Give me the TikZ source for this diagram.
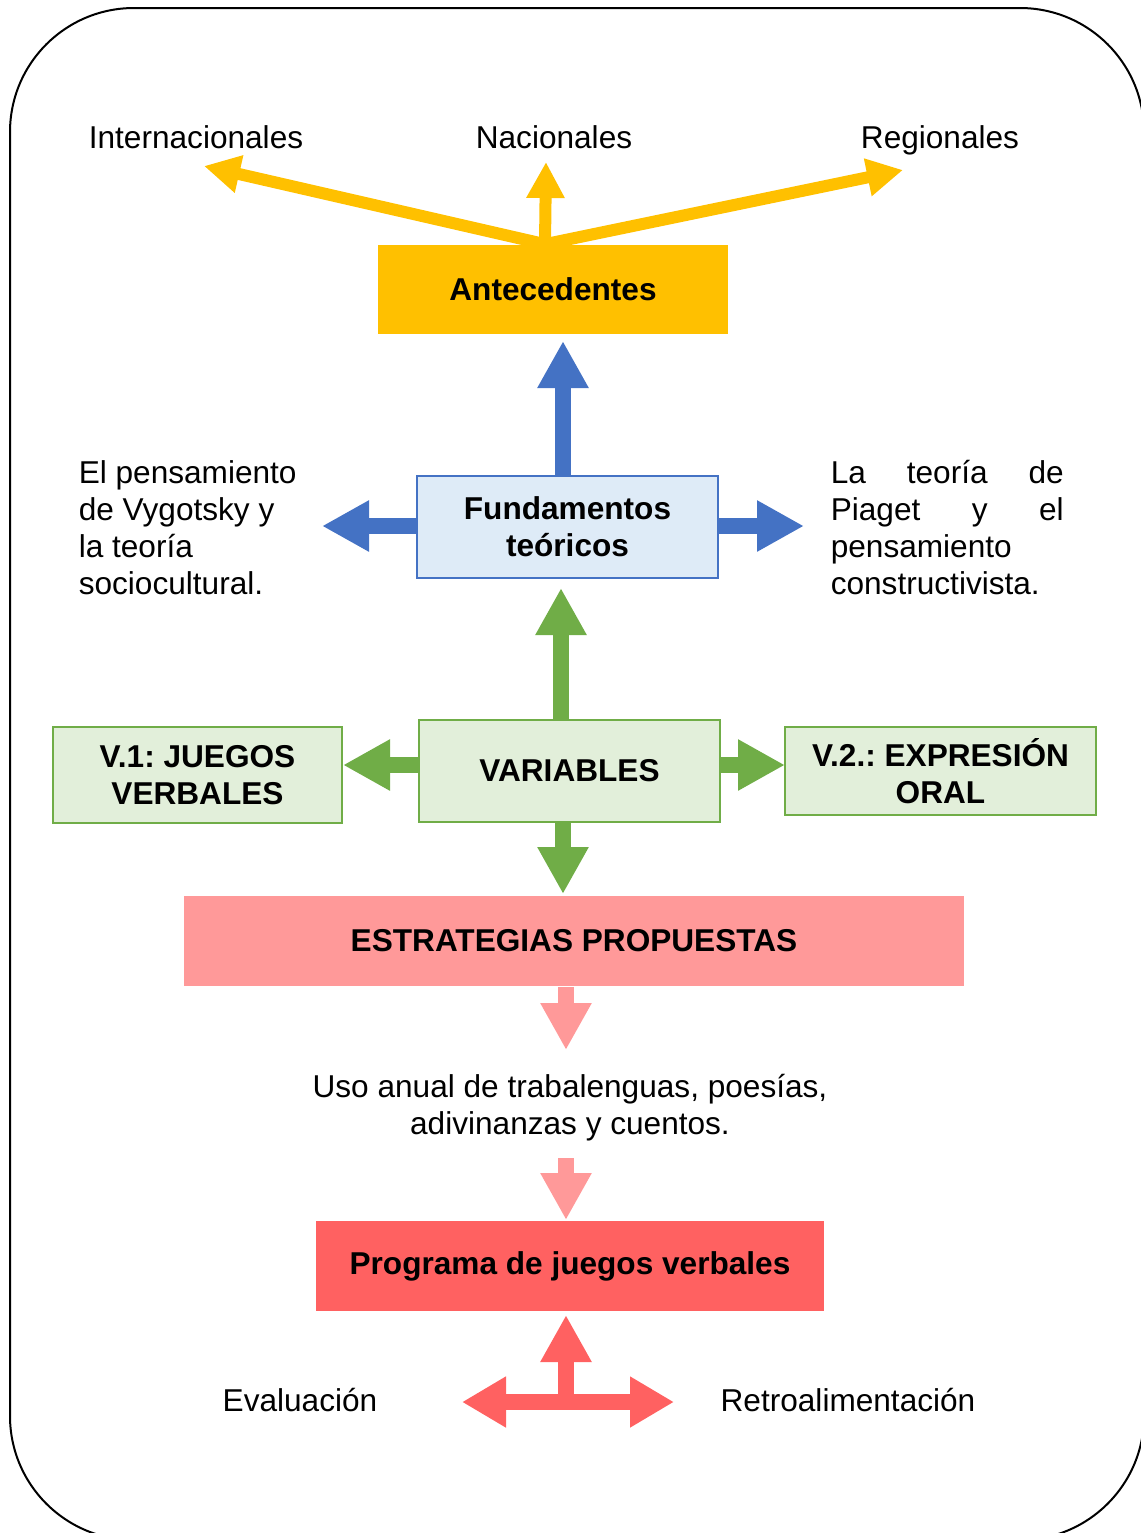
\documentclass[tikz,border=0pt]{standalone}
\usepackage{fontspec}
\setmainfont{Liberation Sans}
\usepackage{xcolor}
\usetikzlibrary{arrows.meta}

\definecolor{anteyellow}{HTML}{FFC000}
\definecolor{fundblue}{HTML}{4472C4}
\definecolor{fundfill}{HTML}{DEEBF7}
\definecolor{vargreen}{HTML}{70AD47}
\definecolor{varfill}{HTML}{E2EFDA}
\definecolor{estrpink}{HTML}{FF9999}
\definecolor{progred}{HTML}{FF6161}
\newcommand{\dfont}{\fontsize{15.8}{18.5}\selectfont\frenchspacing}

\begin{document}
\begin{tikzpicture}[x=0.5pt, y=-0.5pt, thick]
  \tikzset{box/.style={rectangle, inner sep=0pt, align=center, font=\dfont\bfseries},
           txt/.style={inner sep=0pt, font=\dfont},
           yarrow/.style={draw=anteyellow, line width=6pt, -{Triangle[length=18pt, width=18pt]}},
           bigarrow/.style={line width=8pt, -{Triangle[length=23.5pt, width=24pt]}}}

  \useasboundingbox (0,0) rectangle (1141,1533);
  \draw [line width=1pt, rounded corners=62pt] (10,8) rectangle (1144,1540);

  \node [box, fill=anteyellow, minimum width=175pt, minimum height=44.5pt]
        (ante) at (553,289.5) {Antecedentes};

  \foreach \n/\x/\y in {intl/204/166, nac/546/162, reg/903/170} {
    \coordinate (\n) at (\x,\y);
    \draw [yarrow] ([xshift=-4pt]ante.north) -- (\n);
  }
  \node [txt, anchor=base] (intl-l) at (196,148) {Internacionales};
  \node [txt, anchor=base] (nac-l) at (554,148) {Nacionales};
  \node [txt, anchor=base] (reg-l) at (940,148) {Regionales};

  \node [box, draw=fundblue, line width=1pt, fill=fundfill, minimum width=150.5pt, minimum height=51pt]
        (fund) at (567.5,527) {Fundamentos\\teóricos};

  \coordinate (fund-up) at (563,341);
  \coordinate (fund-l) at (322,526);
  \coordinate (fund-r) at (804,526);
  \draw [bigarrow, fundblue] (fund.north -| fund-up) -- (fund-up);
  \draw [bigarrow, fundblue] (fund.west |- fund-l) -- (fund-l);
  \draw [bigarrow, fundblue] (fund.east |- fund-r) -- (fund-r);

  \node [txt, anchor=west, align=left] (vyg) at (78,528)
        {El pensamiento\\de Vygotsky y\\la teoría\\sociocultural.};
  \node [txt, anchor=west, align=left, text width=116.5pt] (piag) at (830,528)
        {La\hfill teoría\hfill de\\Piaget\hfill y\hfill el\\pensamiento\\constructivista.};

  \node [box, draw=vargreen, line width=1pt, fill=varfill, minimum width=150.5pt, minimum height=51pt]
        (vars) at (569.5,771) {VARIABLES};
  \node [box, draw=vargreen, line width=1pt, fill=varfill, minimum width=144.5pt, minimum height=48pt]
        (v1) at (197.5,775) {V.1: JUEGOS\\VERBALES};
  \node [box, draw=vargreen, line width=1pt, fill=varfill, minimum width=155.5pt, minimum height=44pt]
        (v2) at (940.5,771) {V.2.: EXPRESIÓN\\ORAL};

  \coordinate (var-up) at (561,588);
  \coordinate (var-l) at (343,765);
  \coordinate (var-r) at (785,765);
  \coordinate (var-d) at (563,894);
  \draw [bigarrow, vargreen] (vars.north -| var-up) -- (var-up);
  \draw [bigarrow, vargreen] (vars.west |- var-l) -- (var-l);
  \draw [bigarrow, vargreen] (vars.east |- var-r) -- (var-r);
  \draw [bigarrow, vargreen] (vars.south -| var-d) -- (var-d);

  \node [box, fill=estrpink, minimum width=390pt, minimum height=45pt]
        (estr) at (574,941) {ESTRATEGIAS PROPUESTAS};

  \coordinate (estr-d) at (566,1050);
  \draw [bigarrow, estrpink] (estr.south -| estr-d) -- (estr-d);

  \node [txt, align=center] (uso) at (570,1108)
        {Uso anual de trabalenguas, poesías,\\adivinanzas y cuentos.};

  \coordinate (uso-s) at (566,1158);
  \coordinate (uso-d) at (566,1220);
  \draw [bigarrow, estrpink] (uso-s) -- (uso-d);

  \node [box, fill=progred, minimum width=254pt, minimum height=45pt]
        (prog) at (570,1266) {Programa de juegos verbales};

  \coordinate (junc) at (566,1402);
  \coordinate (prog-up) at (566,1315);
  \coordinate (eval-tip) at (462,1402);
  \coordinate (retro-tip) at (674,1402);
  \draw [bigarrow, progred] (junc) -- (prog-up);
  \draw [line width=8pt, progred, {Triangle[length=22pt, width=24pt]}-{Triangle[length=22pt, width=24pt]}]
        (eval-tip) -- (retro-tip);

  \node [txt, anchor=base] (eval) at (300,1411) {Evaluación};
  \node [txt, anchor=base] (retro) at (848,1411) {Retroalimentación};
\end{tikzpicture}
\end{document}
